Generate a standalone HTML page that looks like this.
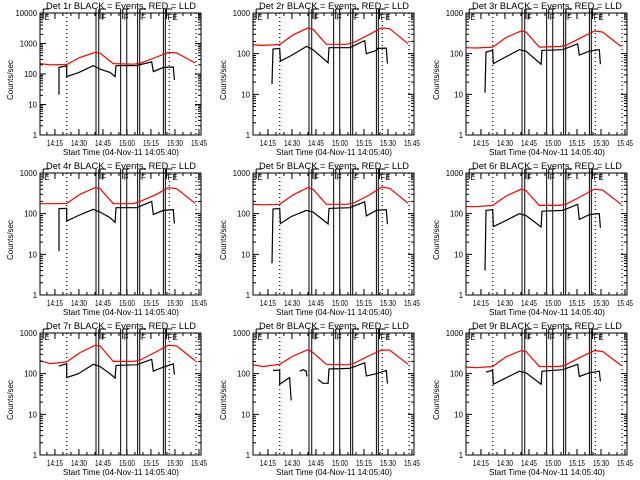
<!DOCTYPE html>
<html><head><meta charset="utf-8"><style>
html,body{margin:0;padding:0;background:#fff;}
svg{display:block;font-family:"Liberation Sans",sans-serif;}
</style></head><body>
<svg id="chart" width="640" height="480" viewBox="0 0 640 480" xmlns="http://www.w3.org/2000/svg"></svg>
<script>
// time in minutes after 14:05:40
const tickLabels = ["14:15","14:30","14:45","15:00","15:15","15:30","15:45"];
const tickTimes = [9.33,24.33,39.33,54.33,69.33,84.33,99.33];
const detNames = ["1r","2r","3r","4r","5r","6r","7r","8r","9r"];
const yMaxDecade = [4,3,3,3,3,3,3,3,3];
const dottedTimes = [16.7,80.8,97.5];
const solidTimes = [35,36.7,50.4,54.2,61,62.3,77.1,78.3];
const flagTimes = [2,37.5,51.7,62.5,79];
const flagLabels = ["E","F","F","F","FE"];
const redT = [0,6.25,16.7,25,34.4,37.5,45.8,58.3,62.5,72.9,80.2,85.4,96.9];
const redV1 = [220,200,205,350,510,480,220,210,225,360,510,490,230];
const redV2 = [165,160,168,290,430,400,170,170,185,300,430,410,175];
const redV3 = [140,138,145,250,360,340,145,150,160,260,360,340,150];
const redV4 = [176,176,178,300,437,410,176,176,200,300,437,410,180];
const redV5 = [170,165,170,290,440,400,170,170,180,290,450,420,180];
const redV6 = [150,148,160,270,400,370,160,160,170,280,400,380,170];
const redV7 = [210,176,195,330,500,480,200,200,215,350,500,480,210];
const redV8 = [165,150,170,270,390,330,170,165,175,280,380,380,170];
const redV9 = [145,140,150,260,370,350,150,150,165,270,370,350,160];
const blkT1 = [11.9,11.9,16.7,16.7,24,33.3,35.4,37.5,43.75,46.9,47.5,60.4,69.8,70.8,77.1,83.3,84];
const blkV1 = [21,165,185,82,110,187,165,145,113,82,187,190,250,120,165,170,64];
const blkT2 = [11.9,12.5,16.7,17.1,24,33.3,35.4,37.5,46.9,47.5,60.4,69.8,70.8,77.1,78,83.3,84];
const blkV2 = [18,130,135,66,90,150,140,125,60,140,140,210,100,120,135,137,57];
const blkT3 = [11.9,12.5,16.7,17.1,24,33.3,37.5,46.9,47.5,60.4,69.8,70.8,77.1,83.3,84];
const blkV3 = [11,110,120,57,80,125,115,55,120,125,175,92,115,125,55];
const blkT4 = [11.9,11.9,16.7,16.7,24,33.3,35.4,37.5,43.75,46.9,47.5,60.4,69.8,70.8,77.1,83.3,84];
const blkV4 = [12,133,135,66,90,128,116,110,80,61,140,140,200,96,120,125,57];
const blkT5 = [11.9,12.5,16.7,17.1,24,33.3,37.5,46.9,47.5,60.4,69.8,70.8,77.1,83.3,84];
const blkV5 = [6,130,135,57,85,120,110,56,135,140,195,88,120,125,55];
const blkT6 = [11.9,12.5,16.7,17.1,24,33.3,37.5,46.9,47.5,60.4,69.8,70.8,77.1,83.3,84];
const blkV6 = [4,120,125,48,65,100,90,47,115,120,170,72,95,100,45];
const blkT7 = [11.9,16.7,16.7,24,33.3,37.5,43.75,46.9,47.5,60.4,69.8,70.8,77.1,83.3,84];
const blkV7 = [155,175,80,100,170,150,100,78,160,165,225,115,145,175,95];
const blkT8 = [12.5,16.7,16.7,22.9,23.9,null,29.2,31.3,33.3,33.75,null,40.6,43.75,46.9,47.5,60.4,69.8,70.8,77.1,83.3,84];
const blkV8 = [120,122,55,80,22,null,115,125,115,85,null,72,58,58,130,135,185,88,100,120,57];
const blkT9 = [12.5,16.7,17.1,24,33.3,37.5,46.9,47.5,60.4,69.8,70.8,77.1,83.3,84];
const blkV9 = [110,120,55,75,115,105,55,115,125,170,85,105,115,65];

const reds = [redV1,redV2,redV3,redV4,redV5,redV6,redV7,redV8,redV9];
const blkTs = [blkT1,blkT2,blkT3,blkT4,blkT5,blkT6,blkT7,blkT8,blkT9];
const blkVs = [blkV1,blkV2,blkV3,blkV4,blkV5,blkV6,blkV7,blkV8,blkV9];

const NS = "http://www.w3.org/2000/svg";
const svg = document.getElementById("chart");
const T_MAX = 100.6, PW = 161, PH = 122;
function mk(tag, attrs, parent, text){
  const e = document.createElementNS(NS, tag);
  for (const k in attrs) e.setAttribute(k, attrs[k]);
  if (text !== undefined) e.textContent = text;
  parent.appendChild(e); return e;
}
for (let p = 0; p < 9; p++){
  const col = p % 3, row = Math.floor(p / 3);
  const L = col * 213 + 40, T = row * 160 + 13;
  const dec = yMaxDecade[p];
  const xs = t => L + t / T_MAX * PW;
  const ys = v => T + PH - Math.log10(Math.max(v, 1)) / dec * PH;
  const g = mk("g", {}, svg);
  
  
  const title = mk("text", {x: L + 6, y: T - 4, "font-size": 9.5, textLength: 150, lengthAdjust: "spacingAndGlyphs"}, g, "Det " + detNames[p] + " BLACK = Events, RED = LLD");
  
  
  dottedTimes.forEach(t => {
    const l = mk("line", {x1: xs(t), x2: xs(t), y1: T, y2: T+PH, stroke: "#000", "stroke-width": 1.2, "stroke-dasharray": "1,3"}, g);
    
    
  });
  solidTimes.forEach(t => {
    const l = mk("line", {x1: xs(t), x2: xs(t), y1: T-4, y2: T+PH, stroke: "#000", "stroke-width": 1}, g);
    
    
  });
  flagTimes.forEach((t, i) => {
    const x = xs(t);
    mk("line", {x1: x, x2: x+6, y1: T-4, y2: T-4, stroke: "#000", "stroke-width": 1}, g);
    mk("line", {x1: x, x2: x, y1: T-4, y2: T+6, stroke: "#000", "stroke-width": 1}, g);
    const f = mk("text", {x: x + 1, y: T + 7, "font-size": 8}, g, flagLabels[i]);
    
    
  });
  const rp = redT.map((t,i) => xs(t).toFixed(1) + "," + ys(reds[p][i]).toFixed(1)).join(" ");
  const red = mk("polyline", {points: rp, fill: "none", stroke: "#ff0000", "stroke-width": 1.2}, g);
  
  
  let d = "", pen = false;
  blkTs[p].forEach((t,i) => {
    const v = blkVs[p][i];
    if (t === null || v === null){ pen = false; return; }
    d += (pen ? "L" : "M") + xs(t).toFixed(1) + "," + ys(v).toFixed(1);
    pen = true;
  });
  const blk = mk("path", {d: d, fill: "none", stroke: "#000", "stroke-width": 1.2}, g);
  
  
  const fr = mk("rect", {x: L, y: T, width: PW, height: PH, fill: "none", stroke: "#000", "stroke-width": 1}, g);
  
  
  for (let k = 0; k <= dec; k++){
    const y = ys(Math.pow(10, k));
    mk("line", {x1: L, x2: L+6, y1: y, y2: y, stroke: "#000"}, g);
    mk("line", {x1: L+PW-6, x2: L+PW, y1: y, y2: y, stroke: "#000"}, g);
    const s = String(Math.pow(10, k));
    const lb = mk("text", {x: L - 3, y: y + 3, "font-size": 8, "text-anchor": "end", textLength: s.length * 4.3, lengthAdjust: "spacingAndGlyphs"}, g, s);
    
    
    if (k < dec) for (let m = 2; m <= 9; m++){
      const ym = ys(m * Math.pow(10, k));
      mk("line", {x1: L, x2: L+3, y1: ym, y2: ym, stroke: "#000"}, g);
      mk("line", {x1: L+PW-3, x2: L+PW, y1: ym, y2: ym, stroke: "#000"}, g);
    }
  }
  tickTimes.forEach((t,i) => {
    const x = xs(t);
    mk("line", {x1: x, x2: x, y1: T+PH, y2: T+PH-6, stroke: "#000"}, g);
    mk("line", {x1: x, x2: x, y1: T, y2: T+6, stroke: "#000"}, g);
    const lb = mk("text", {x: x, y: T + PH + 11, "font-size": 8.5, "text-anchor": "middle", textLength: 16, lengthAdjust: "spacingAndGlyphs"}, g, tickLabels[i]);
    
    
  });
  for (let t = 4.33; t < T_MAX; t += 5){
    const x = xs(t);
    mk("line", {x1: x, x2: x, y1: T+PH, y2: T+PH-3, stroke: "#000"}, g);
    mk("line", {x1: x, x2: x, y1: T, y2: T+3, stroke: "#000"}, g);
  }
  const xt = mk("text", {x: L + 23, y: T + PH + 20, "font-size": 8.5, textLength: 116, lengthAdjust: "spacingAndGlyphs"}, g, "Start Time (04-Nov-11 14:05:40)");
  
  
  const yt = mk("text", {x: 0, y: 0, "font-size": 8, "text-anchor": "middle", transform: "translate(" + (L - 27) + "," + (T + PH/2 + 6) + ") rotate(-90)"}, g, "Counts/sec");
  
  
}
</script>
</body></html>
